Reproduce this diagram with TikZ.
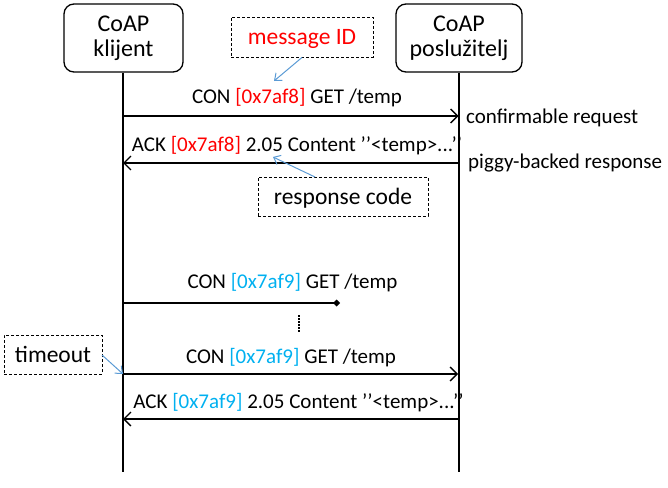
\documentclass[tikz,border=0pt]{standalone}
\usepackage{fontspec}
\setmainfont{Carlito}
\usetikzlibrary{arrows.meta}
\definecolor{idred}{RGB}{255,0,0}
\definecolor{idblue}{RGB}{0,176,240}
\definecolor{callout}{RGB}{91,155,213}
\begin{document}
\begin{tikzpicture}[x=1pt,y=-1pt,
  party/.style={draw, line width=1.3pt, rounded corners=10pt, minimum height=68pt, inner sep=0pt, align=center, font=\fontsize{24}{25}\selectfont},
  note/.style={draw, dash pattern=on 3pt off 2pt, line width=0.9pt, inner sep=0pt, text height=16pt, text depth=0pt, font=\fontsize{23.5}{25}\selectfont},
  msg/.style={line width=1.3pt, -{Straight Barb[length=7pt,width=14pt,line width=1.3pt]}},
  lost/.style={line width=1.3pt, -{Diamond[length=7pt,width=7pt]}},
  lbl/.style={anchor=base, inner sep=0pt, font=\fontsize{21}{25}\selectfont},
  side/.style={anchor=base west, inner sep=0pt, font=\fontsize{21}{25}\selectfont},
  life/.style={line width=2pt},
  call/.style={callout, line width=1pt, -{Straight Barb[length=6pt,width=10pt,line width=1pt]}}]
\useasboundingbox (0,0) rectangle (668,487);

% participants
\node[party, minimum width=119pt] (cl) at (123.5,38) {CoAP\\klijent};
\node[party, minimum width=126pt] (sv) at (459,38) {CoAP\\poslužitelj};

% lifelines
\coordinate (clend) at (123,472);
\coordinate (svend) at (458.5,472);
\draw[life] (cl.south -| clend) -- (clend);
\draw[life] (sv.south -| svend) -- (svend);

% lifeline points
\coordinate (c1) at (123,116);  \coordinate (s1) at (458.5,116);
\coordinate (c2) at (123,163);  \coordinate (s2) at (458.5,163);
\coordinate (c3) at (123,303);  \coordinate (x3) at (340,303);
\coordinate (c4) at (123,374);  \coordinate (s4) at (458,374);
\coordinate (c5) at (123,419);  \coordinate (s5) at (458.5,419);

% exchange 1
\draw[msg] (c1) -- (s1);
\node[lbl] (t1) at (297,103) {CON \textcolor{idred}{[0x7af8]} GET /temp};
\draw[msg] (s2) -- (c2);
\node[lbl] (t2) at (297,151) {ACK \textcolor{idred}{[0x7af8]} 2.05 Content ’’<temp>...’’};
\node[side] (n1) at (466,123) {confirmable request};
\node[side] (n2) at (468,168) {piggy-backed response};

% callouts
\node[note, minimum width=142pt, minimum height=40pt, text=idred] (mid) at (302,37) {message ID};
\coordinate (midtip) at (274,81);
\draw[call] (mid.south) -- (midtip);
\node[note, minimum width=170pt, minimum height=39pt] (rc) at (343,196.5) {response code};
\coordinate (rctail) at (315,177);
\coordinate (rctip) at (273,157);
\draw[call] (rctail) -- (rctip);

% exchange 2
\draw[lost] (c3) -- (x3);
\node[lbl] (t3) at (292.5,288) {CON \textcolor{idblue}{[0x7af9]} GET /temp};
\coordinate (d1) at (299,315);
\coordinate (d2) at (299,333);
\draw[line width=2pt, dash pattern=on 1.5pt off 1.5pt] (d1) -- (d2);

\node[note, minimum width=98pt, minimum height=39pt] (to) at (53,354.5) {timeout};
\coordinate (totail) at (102,355);
\draw[call] (totail) -- (c4);

\draw[msg] (c4) -- (s4);
\node[lbl] (t4) at (291,363) {CON \textcolor{idblue}{[0x7af9]} GET /temp};
\draw[msg] (s5) -- (c5);
\node[lbl] (t5) at (298.5,408) {ACK \textcolor{idblue}{[0x7af9]} 2.05 Content ’’<temp>...’’};
\end{tikzpicture}
\end{document}
